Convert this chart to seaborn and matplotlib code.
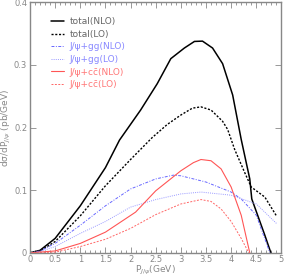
import numpy as np
import pandas as pd
import matplotlib
matplotlib.use("Agg")
import matplotlib.pyplot as plt
import seaborn as sns

# values
x_tot_nlo = [0, 0.2, 0.5, 1.0, 1.5, 1.78, 2.2, 2.53, 2.8, 3.07, 3.27, 3.43, 3.63, 3.83, 4.03, 4.2, 4.37, 4.41, 4.67, 4.79]
y_tot_nlo = [0, 0.004, 0.023, 0.075, 0.136, 0.18, 0.228, 0.27, 0.31, 0.327, 0.3375, 0.338, 0.327, 0.302, 0.252, 0.181, 0.118, 0.086, 0.028, 0.0]

x_tot_lo = [0, 0.2, 0.5, 1.0, 1.5, 2.0, 2.43, 2.73, 3.0, 3.23, 3.4, 3.6, 3.83, 3.93, 4.07, 4.27, 4.4, 4.67, 4.9]
y_tot_lo = [0, 0.003, 0.018, 0.059, 0.107, 0.149, 0.184, 0.205, 0.22, 0.231, 0.233, 0.228, 0.21, 0.197, 0.165, 0.128, 0.105, 0.089, 0.059]

x_gg_nlo = [0, 0.2, 0.5, 1.0, 1.5, 2.0, 2.5, 2.85, 3.0, 3.5, 4.0, 4.2, 4.5, 4.77]
y_gg_nlo = [0, 0.003, 0.015, 0.044, 0.075, 0.102, 0.118, 0.124, 0.123, 0.113, 0.097, 0.086, 0.06, 0.0]

x_gg_lo = [0, 0.2, 0.5, 1.0, 1.5, 2.0, 2.5, 3.0, 3.4, 4.0, 4.5, 4.9]
y_gg_lo = [0, 0.002, 0.010, 0.031, 0.05, 0.073, 0.085, 0.094, 0.097, 0.092, 0.078, 0.047]

x_cc_nlo = [0, 0.5, 1.0, 1.5, 2.1, 2.5, 3.0, 3.25, 3.4, 3.6, 3.8, 4.0, 4.2, 4.37]
y_cc_nlo = [0, 0.003, 0.015, 0.033, 0.065, 0.099, 0.131, 0.144, 0.149, 0.147, 0.134, 0.105, 0.06, 0.0]

x_cc_lo = [0, 0.5, 1.0, 1.5, 2.0, 2.5, 3.0, 3.4, 3.6, 3.8, 4.0, 4.2, 4.35]
y_cc_lo = [0, 0.001, 0.01, 0.0216, 0.039, 0.061, 0.078, 0.085, 0.082, 0.07, 0.05, 0.023, 0.0]

labels = ["total(NLO)", "total(LO)", "J/\u03c8+gg(NLO)", "J/\u03c8+gg(LO)",
          "J/\u03c8+cc\u0304(NLO)", "J/\u03c8+cc\u0304(LO)"]

sns.set_style("ticks")
plt.rcParams["font.family"] = ["DejaVu Sans"]

fig = plt.figure(figsize=(2.84, 2.76), dpi=100)
ax = fig.add_axes([0.1056, 0.084, 0.8854, 0.9077])

series = [
    (x_tot_nlo, y_tot_nlo, "black", "-", 1.1),
    (x_tot_lo, y_tot_lo, "black", (0, (1.5, 1.2)), 1.0),
    (x_gg_nlo, y_gg_nlo, "#6666ff", (0, (3, 1.5, 1, 1.5)), 0.7),
    (x_gg_lo, y_gg_lo, "#9999ff", (0, (1, 1.2)), 0.7),
    (x_cc_nlo, y_cc_nlo, "#ff5555", "-", 0.8),
    (x_cc_lo, y_cc_lo, "#ff6666", (0, (2, 1.5)), 0.7),
]
for (xs, ys, col, ls, lw), lab in zip(series, labels):
    df = pd.DataFrame({"x": xs, "y": ys})
    sns.lineplot(data=df, x="x", y="y", ax=ax, color=col, linestyle=ls, linewidth=lw, label=lab)

ax.set_xlim(0, 5)
ax.set_ylim(0, 0.4)
ax.set_xticks([0, 0.5, 1, 1.5, 2, 2.5, 3, 3.5, 4, 4.5, 5])
ax.set_xticklabels(["0", "0.5", "1", "1.5", "2", "2.5", "3", "3.5", "4", "4.5", "5"])
ax.set_yticks([0, 0.1, 0.2, 0.3, 0.4])
ax.set_yticklabels(["0", "0.1", "0.2", "0.3", "0.4"])
ax.set_xticks(np.arange(0, 5.01, 0.1), minor=True)
ax.tick_params(which="both", direction="in", top=True, right=True, colors="#888888",
               labelsize=6, labelcolor="#888888", width=0.6, pad=2)
ax.tick_params(axis="x", pad=1.5)
ax.tick_params(which="major", length=4)
ax.tick_params(which="minor", length=2)
for s in ax.spines.values():
    s.set_color("#888888")
    s.set_linewidth(1.0)

ax.set_xlabel("P$_{J/\u03c8}$(GeV)", fontsize=6.5, color="#888888", labelpad=0)
ax.set_ylabel("d\u03c3/dP$_{J/\u03c8}$ (pb/GeV)", fontsize=6.5, color="#888888", labelpad=1)

leg = ax.legend(loc="upper left", bbox_to_anchor=(0.07, 0.955), frameon=False, fontsize=6.5,
                handlelength=1.4, handletextpad=0.6, labelspacing=0.4, borderaxespad=0)
text_colors = ["#666666", "#666666", "#8888ff", "#8888ff", "#ff7777", "#ff7777"]
for t, c in zip(leg.get_texts(), text_colors):
    t.set_color(c)

fig.savefig("out.png", dpi=100)
